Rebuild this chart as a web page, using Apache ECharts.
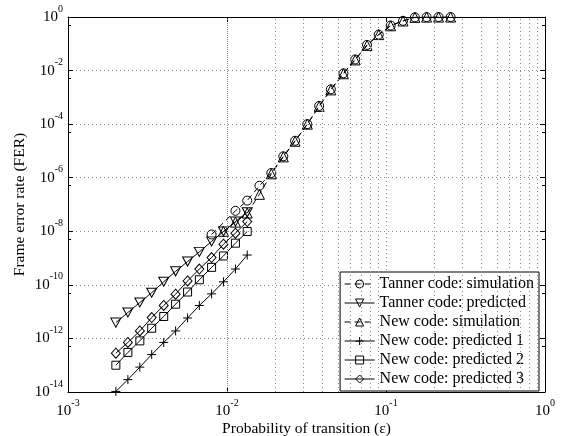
<!DOCTYPE html>
<html>
<head>
<meta charset="utf-8">
<title>FER</title>
<script src="https://cdn.jsdelivr.net/npm/echarts@6/dist/echarts.min.js"></script>
<style>
html, body { margin: 0; padding: 0; background: #fff; }
#chart { width: 562px; height: 436px; }
</style>
</head>
<body>
<div id="chart"></div>
<script type="text/javascript">
// 横轴取值
var epsPred = [0.002, 0.00238, 0.00283, 0.00336, 0.004, 0.00475, 0.00565, 0.0067, 0.008, 0.0095, 0.0113, 0.0134];
var epsTannerSim = [0.008, 0.0113, 0.0134, 0.016, 0.019, 0.0226, 0.0268, 0.032, 0.038, 0.045, 0.054, 0.064, 0.076, 0.09, 0.107, 0.128, 0.152, 0.18, 0.214, 0.255];
var epsNewSim = [0.0095, 0.0113, 0.0134, 0.016, 0.019, 0.0226, 0.0268, 0.032, 0.038, 0.045, 0.054, 0.064, 0.076, 0.09, 0.107, 0.128, 0.152, 0.18, 0.214, 0.255];

// FER
var tannerSim = [7.6e-9, 5.8e-8, 1.4e-7, 5.0e-7, 1.5e-6, 6.3e-6, 2.4e-5, 1.0e-4, 4.8e-4, 2.0e-3, 7.9e-3, 0.026, 0.091, 0.22, 0.48, 0.72, 0.97, 0.99, 0.995, 0.995];
var tannerPred = [3.9e-12, 9.3e-12, 2.2e-11, 5.1e-11, 1.3e-10, 3.2e-10, 7.4e-10, 1.7e-9, 4.2e-9, 9.8e-9, 2.3e-8, 5.1e-8];
var newSim = [1.0e-8, 2.2e-8, 4.8e-8, 2.4e-7, 1.4e-6, 6.0e-6, 2.3e-5, 1.0e-4, 4.6e-4, 1.9e-3, 7.6e-3, 0.025, 0.087, 0.22, 0.47, 0.71, 0.97, 0.99, 0.995, 0.995];
var newPred1 = [1.05e-14, 2.9e-14, 8.5e-14, 2.5e-13, 7.1e-13, 1.9e-12, 5.8e-12, 1.7e-11, 4.6e-11, 1.3e-10, 3.9e-10, 1.3e-9];
var newPred2 = [1.0e-13, 3.0e-13, 8.1e-13, 2.4e-12, 6.6e-12, 1.9e-11, 5.4e-11, 1.55e-10, 4.5e-10, 1.2e-9, 3.6e-9, 9.8e-9];
var newPred3 = [2.8e-13, 7.1e-13, 1.9e-12, 6.0e-12, 1.7e-11, 4.5e-11, 1.4e-10, 3.9e-10, 1.05e-9, 3.3e-9, 8.5e-9, 2.3e-8];

// 次网格线
var minorGridX = [0.002, 0.003, 0.004, 0.005, 0.006, 0.007, 0.008, 0.009,
                  0.02, 0.03, 0.04, 0.05, 0.06, 0.07, 0.08, 0.09,
                  0.2, 0.3, 0.4, 0.5, 0.6, 0.7, 0.8, 0.9];

var serif = '"Liberation Serif", "DejaVu Serif", serif';
var gridLine = {show: true, lineStyle: {color: '#8c8c8c', type: [1, 3], width: 1}};
var richPow = {
    b: {fontSize: 15, lineHeight: 15, fontFamily: serif, color: '#000'},
    s: {fontSize: 10, lineHeight: 10, fontFamily: serif, color: '#000', padding: [0, 0, 16, 0]}
};
function powLabel(v) {
    var e = Math.round(Math.log10(v));
    return '{b|10}{s|' + e + '}';
}

function zip(xs, ys) {
    return xs.map(function (x, i) { return [x, ys[i]]; });
}

var hollow = {color: 'rgba(255,255,255,0)', borderColor: '#000', borderWidth: 1};
var plusPath = 'path://M5,0 L5,10 M0,5 L10,5';
var downTri = 'path://M0,0 L10,0 L5,8.66 Z';

function makeSeries(name, xs, ys, symbol, size, dashed) {
    return {
        name: name,
        type: 'line',
        data: zip(xs, ys),
        symbol: symbol,
        symbolSize: size,
        showAllSymbol: true,
        itemStyle: hollow,
        lineStyle: {color: '#000', width: 1, type: dashed ? [6, 4] : 'solid'},
        emphasis: {disabled: true},
        animation: false
    };
}

var series = [
    makeSeries('Tanner code: simulation', epsTannerSim, tannerSim, 'circle', 9, true),
    makeSeries('Tanner code: predicted', epsPred, tannerPred, downTri, [10, 9], false),
    makeSeries('New code: simulation', epsNewSim, newSim, 'triangle', 10, true),
    makeSeries('New code: predicted 1', epsPred, newPred1, plusPath, 9, false),
    makeSeries('New code: predicted 2', epsPred, newPred2, 'rect', 8, false),
    makeSeries('New code: predicted 3', epsPred, newPred3, 'diamond', [9, 10], false)
];
series[0].markLine = {
    silent: true,
    symbol: ['none', 'none'],
    label: {show: false},
    lineStyle: {color: '#8c8c8c', type: [1, 3], width: 1},
    data: minorGridX.map(function (x) { return {xAxis: x}; })
};

var chart = echarts.init(document.getElementById('chart'));
chart.setOption({
    animation: false,
    backgroundColor: '#fff',
    grid: {left: 68, right: 17, top: 17, bottom: 44, outerBoundsMode: 'none', containLabel: false},
    legend: {
        orient: 'vertical',
        right: 23,
        top: 272,
        itemWidth: 30,
        itemHeight: 10,
        itemGap: 3,
        padding: [4, 5, 4, 4],
        backgroundColor: '#fff',
        borderColor: '#000',
        borderWidth: 1,
        lineStyle: {width: 1},
        itemStyle: {borderWidth: 1},
        textStyle: {fontSize: 16, fontFamily: serif, color: '#000'},
        selectedMode: false,
        data: series.map(function (s) { return s.name; })
    },
    xAxis: [{
        type: 'log',
        logBase: 10,
        min: 0.001,
        max: 1,
        position: 'bottom',
        name: 'Probability of transition (\u03b5)',
        nameLocation: 'middle',
        nameGap: 29,
        nameMoveOverlap: false,
        nameTextStyle: {fontSize: 15.5, fontFamily: serif, color: '#000'},
        axisLine: {lineStyle: {color: '#000', width: 1}},
        axisTick: {inside: true, length: 5, lineStyle: {color: '#000'}},
        axisLabel: {margin: 12, formatter: powLabel, rich: richPow, showMinLabel: true, showMaxLabel: true},
        splitLine: gridLine
    }, {
        type: 'log',
        logBase: 10,
        min: 0.001,
        max: 1,
        position: 'top',
        axisLine: {lineStyle: {color: '#000', width: 1}},
        axisTick: {inside: true, length: 5, lineStyle: {color: '#000'}},
        axisLabel: {show: false},
        splitLine: {show: false}
    }],
    yAxis: [{
        type: 'log',
        logBase: 10,
        min: 1e-14,
        max: 1,
        interval: 2,
        position: 'left',
        name: 'Frame error rate (FER)',
        nameLocation: 'middle',
        nameGap: 40,
        nameMoveOverlap: false,
        nameTextStyle: {fontSize: 15.5, fontFamily: serif, color: '#000'},
        axisLine: {lineStyle: {color: '#000', width: 1}},
        axisTick: {inside: true, length: 5, lineStyle: {color: '#000'}},
        minorTick: {show: true, splitNumber: 2, length: 3, lineStyle: {color: '#000'}},
        axisLabel: {margin: 5, formatter: powLabel, rich: richPow, showMinLabel: true, showMaxLabel: true},
        splitLine: gridLine
    }, {
        type: 'log',
        logBase: 10,
        min: 1e-14,
        max: 1,
        interval: 2,
        position: 'right',
        axisLine: {lineStyle: {color: '#000', width: 1}},
        axisTick: {inside: true, length: 5, lineStyle: {color: '#000'}},
        minorTick: {show: true, splitNumber: 2, length: 3, lineStyle: {color: '#000'}},
        axisLabel: {show: false},
        splitLine: {show: false}
    }],
    series: series
});
</script>
</body>
</html>
